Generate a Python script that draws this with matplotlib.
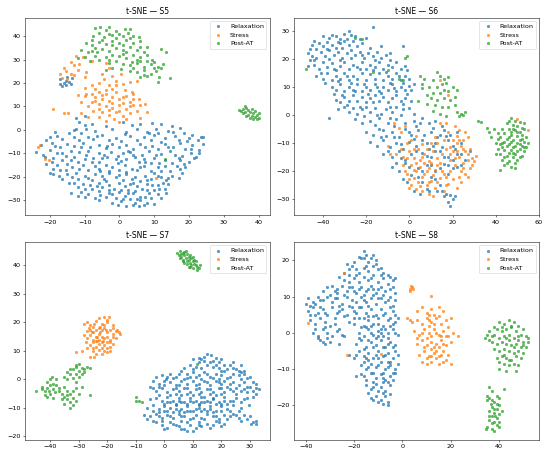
"""t-SNE embeddings of the four subjects, coloured by condition."""
import numpy as np
import matplotlib
matplotlib.use("Agg")
import matplotlib.pyplot as plt

# ── Embedding coordinates (x, y) ──────────────────────────────────────────────
s5_relax = [
    (1,3.5),(9.5,3),(12,2.5),(17.5,1),(-10,2),(-4,1.5),(3.5,2),(6,2.5),(10.5,0.5),(15,1.5),(14,-0.5),
    (-12.5,0.5),(-7,-0.5),(-2,0.2),(2,-1),(5,0.5),(8,-0.8),(11,-1.2),(18.5,-1.5),(21,-2),(23.5,-3),
    (-18,-2.5),(-14.5,-1.5),(-9,-3),(-5,-2),(-1,-3.5),(3,-2.5),(7,-3),(10,-2),(13,-3.5),(16,-2.8),
    (20,-3.5),(22.5,-4.5),(-16.5,-4),(-11.5,-4.5),(-7.5,-4),(0.5,-4.8),(5,-4.2),(9,-4.5),(12,-5),
    (17,-4.5),(-21,-4.2),(-3,-4.5),
    (-22.5,-6.5),(-19.5,-5.5),(-15,-6),(-13,-7),(-10.5,-5.8),(-6,-6.5),(-2,-6),(2,-6.5),(6,-6),
    (9.5,-7),(13,-6),(15.5,-7.5),(17.5,-5.5),(21,-6.5),(24,-6),(-17,-7.5),(-8.5,-7.5),(-4,-7.8),
    (0,-7.5),(4,-8),(11,-8),(19,-8),(23,-8.5),
    (-20,-8.5),(-18,-10),(-14,-9),(-11.5,-9.5),(-9,-9),(-6,-10),(-2.5,-9.5),(1,-10),(3,-9.5),
    (6.5,-10.5),(8.5,-9),(12,-10.2),(14.5,-9),(16,-10.5),(18,-11),(20.5,-10),(22,-11.5),
    (-24,-9.5),(-22,-10.5),(-15.5,-11),(-13,-11.5),(-7.5,-11.8),
    (-19,-12),(-16.5,-13),(-10,-12.5),(-5,-12),(-3.5,-11.5),(-1,-12.5),(2,-12.3),(4.5,-11.5),
    (7,-12.5),(10,-12),(13,-12.8),(17.5,-13),(20,-13.5),(21.5,-12),(-12,-13.5),(-8,-13.8),
    (-0.5,-14),(5.5,-13.8),(9,-14),(15,-14),
    (-21,-14.5),(-18,-15),(-15,-14.5),(-13.5,-16),(-10.5,-15),(-7,-15.5),(-4,-14.8),(-2,-16),
    (1.5,-15),(3.5,-16.5),(7,-15.5),(11,-16),(13,-15.5),(16.5,-15.5),(19,-16),(-17,-17),(-9,-17),
    (-5.5,-17.5),(0,-17.3),(5,-17),(9,-17.5),(14.5,-17.5),(18,-18.5),
    (-20,-18.5),(-19,-19),(-15,-19),(-12.5,-18.5),(-10,-19.5),(-7,-19),(-3,-18.5),(-1,-20),(2,-19),
    (4.5,-20),(7.5,-19.5),(10,-18.5),(12,-20),(15,-19.5),(17,-20.5),(-16.5,-21),(-12,-21),
    (-8,-21.5),(-4.5,-21),(1,-21.5),(6,-21.8),(9,-21),(13.5,-21.5),
    (-14.5,-22.5),(-10.5,-23),(-6,-22.5),(-3,-23.5),(0,-22.8),(3,-23),(5,-24),(8,-23),(11,-23.5),
    (14,-23),(-12,-24.5),(-8,-25),(-5,-24.5),(-1.5,-25),(2.5,-25.5),(6.5,-25),(10,-25.5),(13,-25),
    (-14,-27),(-11,-26.5),(-9,-27.5),(-6,-26),(-3,-27),(0,-26.5),(1.5,-28),(4,-27),(6,-28.5),
    (8.5,-27),(11,-27.5),(13.5,-27),(-12,-28),(-7,-29),(-4,-28.5),(-1,-29),(3,-29.5),(9,-29),
    (-6,-30),(-2,-31),(0.5,-30.5),(2,-32.5),(4.5,-31),(5.5,-32.5),(8,-31),(10,-31.5),(-0.5,-32),(6,-30),
    (-17,21.5),(-16,20),(-15.5,19),(-14.5,20.5),(-16.5,18.5),(-13.5,22),(-15,22.5),(-17,19.5),
    (-14,19.5),(-15.5,21),
    (-12.5,5),(-11.5,3.5),(-9.5,0.5),(-13,0),(-8,2.5),(-10,6),(-11,-1.5),(-18.5,-1),(24,-3),
    (-20,-3.2),(-13,-3),(-6.5,-2.8),(1.5,-1.8),(8.5,-1.5),(15.5,-0.8),(19.5,-4.8),
    (-18.5,-7),(-11,-7.2),(-3.5,-7),(2.5,-8.8),(7.5,-7.5),(14,-7.2),(20.5,-8),
    (-21.5,-11.5),(-16.5,-10),(-9.5,-10.8),(-4.5,-10.5),(-0.5,-11),(4,-10.8),(10.5,-10.5),(17,-12),
    (23,-10),(-19.5,-13.8),(-14,-13),(-6,-13.5),(0.5,-13.2),(7.5,-13.8),(11.5,-14.2),(18.5,-14.5),
    (-19,-16.5),(-15.5,-17),(-11.5,-16.8),(-6,-16.5),(-3,-17.5),(2,-17.8),(6,-16),(12,-17.5),
    (17.5,-16.8),(-17.5,-19.8),(-13.5,-20),(-9,-20.5),(-5,-19.8),(0,-19.2),(3.5,-21),(8,-21.5),
    (11,-19.5),(14,-20.3),(-13,-22.5),(-8.5,-23.5),(-4,-22),(1.5,-24),(4,-22.5),(9.5,-23.5),
    (12.5,-22.5),(-10,-25),(-6.5,-24),(-3,-25.5),(0.5,-25.5),(4.5,-26),(8,-25.5),(11.5,-25),
    (-10,-28.5),(-5.5,-27.8),(-2,-27.5),(2.5,-27),(5,-29.5),(7.5,-28.5),(12,-29),(1,-29.5),(4,-32),(7,-32),
]
s5_stress = [
    (-12.5,31.5),(-10.5,31),(-14,29),(-13,27.5),(-11.5,28),(-15.5,25),(-14,24),(-16.5,22),(-15,21.5),
    (-13,23.5),(-12,25.5),(-16,26.5),(-17,24),(-8,29.5),(-9.5,24.5),(-10,22.5),
    (-4,28.5),(-3,26.5),(-5,24),(-2,23),(-4.5,21.5),(-1,21),(0.5,24),(-6,20),(-3,19),(1,19.5),
    (3,20.5),(5,21),(-8,19),
    (-12,15),(-10,14.5),(-9.5,15.5),(-8,12),(-7,14),(-6,16),(-5,13),(-4,15.5),(-3,12.5),(-2,14),
    (-1,16),(0,13),(1,11.5),(2,14.5),(3,12),(4,15.5),(5.5,13),(6,10.5),(7.5,11),(-6,11),(-4,10),
    (-2,9.5),(0,10.5),(2,9),(4,10.5),(-9,10),(-11,12),(-7.5,8),(-5,7.5),(-3,6.5),(-1,7.5),(1,6),
    (3,7),(5,8),(-1.5,4.5),(-6,5.5),(-9,5.5),(-11,7),(-2,17.5),(-7,17.5),(1.5,17),(3.5,16),
    (-10,18),(0,3.5),(2,4.5),(8,7.5),(-4,3.8),(6,5),
    (-7,12.5),(-5,15),(-2,11.5),(1,14),(3,10),(-8,15.5),(-3,8.5),(0,8),(4,13),(-6,9),(-1,19),(-4,17),
    (-19,8.7),(-16,7.3),(-14.8,7),(-22.8,-6.3),(-21.5,-12.6),(-20.3,-12.7),(10.6,-20.3),(-23.5,-7.5),
]
s5_post = [
    (-7,43.5),(-5.5,44),(-4,42.5),(-3,43.8),(-6,41.5),(-1,42),(1.5,43),(2.5,41.5),(4,40),(-2,40.5),
    (0,41),(3,43),(-4.5,39.5),(-7.5,40),(5.5,39.5),
    (-9.5,37),(-8,36),(-6,37.5),(-4,36.5),(-2,38),(0,37),(2,38.5),(4,37),(6,38),(-5,34.5),(-3,33.5),
    (-1,35),(1,34),(3,35.5),(5,34),(7,33),(-9,33),(-7,31.5),(-10,31),(-8.5,29.5),(-6,30),(-4,31),
    (-2,32),(0,31.5),(2,30.5),(4,32),(6,31),(8,32),(9.5,30),(-3,28.5),(-1,29.5),(1,28),(3,27.5),
    (5,28.5),(7,27),(9,28),(11,27),(3,25),(5,24.5),(7,25.5),(9,24),(10.5,25),(12,26.5),(6,22.5),
    (8,23),(11.5,22.5),(14.5,22),(11,20.5),(12,34.5),(13.5,33),(-11,34),(-12,30.5),(-8,38.5),
    (-1,39),(1,36),(-6.5,33),(3.5,29),(6,29.5),(0.5,26),(8,35.5),(10,29),(-2,26.5),(12.5,28),(-4,25.5),
    (-3,41),(1,40),(-5,38.5),(3,39),(-7,35),(-2,36),(2,33),(6,35.5),(-8,33.5),(-3,30),(1,32.5),
    (5,30),(8,29.5),(10,26.5),(4,26.5),(7,23.5),
    (35,8),(35.5,9),(36,7.5),(36.5,9.5),(37,8.5),(37,6.5),(37.5,7.5),(38,9),(38,6),(38.5,7),(39,5.5),
    (39,8),(39.5,6.5),(40,5),(40,7),(36,10),(34.5,8.5),(38.5,4.5),(37.5,5),(36.5,6),(39.5,4.5),(35.5,7),
    (13,-12.3),
]

s6_relax = [
    (-40,28),(-37,27.5),(-34,28),(-32,27),(-30,29),(-28,30),(-27,28.5),(-29,27),(-17,31.5),(-20,27.5),
    (-45,25),(-42,25.5),(-40,24.5),(-38,26),(-36,25),(-34,24),(-32,25.5),(-30,26.5),(-28,25),
    (-26,26.5),(-24,24.5),(-22,25.5),(-43,23.5),(-3,24.5),
    (-47,22),(-45,21),(-43,20.5),(-41,22.5),(-39,21),(-37,23),(-35,21.5),(-33,22.5),(-31,20.5),
    (-29,22),(-27,23),(-25,21.5),(-23,22.5),(-21,20.5),(-19,22),(-17,21),(-15,22.5),(-13,20.5),
    (-11,21.5),(-9,22),
    (-47,17.5),(-44,18),(-42,16.5),(-40,19),(-38,17),(-36,18.5),(-34,16),(-32,17.5),(-30,19),
    (-28,16.5),(-26,18),(-24,17),(-22,19),(-20,16.5),(-18,18),(-16,17),(-14,19),(-12,16.5),(-10,18),
    (-8,17),(-6,19),(-4,16.5),(-2,17.5),(-46,19.5),(-1,16),
    (-43,14),(-40,13),(-38,15),(-36,12.5),(-34,14),(-32,13),(-30,15),(-28,12.5),(-26,14),(-24,13),
    (-22,15),(-20,12.5),(-18,14.5),(-16,13),(-14,15),(-12,12.5),(-10,14),(-8,13),(-6,15),(-4,12.5),
    (-2,14),(0,13),
    (-36,10),(-34,9),(-32,11),(-30,8.5),(-28,10),(-26,9),(-24,11),(-22,8.5),(-20,10),(-18,9),
    (-16,11),(-14,8.5),(-12,10),(-10,9),(-8,11),(-6,8.5),(-4,10),(-2,9),(0,10.5),(2,11),
    (-34,5.5),(-32,4.5),(-30,6.5),(-28,5),(-26,7),(-24,5),(-22,6.5),(-20,4.5),(-18,6),(-16,7),
    (-14,5),(-12,6.5),(-10,4.5),(-8,6),(-6,7),(-4,5),(-35,7.5),(-2,6),
    (-33,2),(-30,3),(-28,1),(-26,2.5),(-24,0.5),(-22,2),(-20,3),(-18,1),(-16,2.5),(-13,0.5),(-11,2),
    (-8,1),(-6,3),(-3,2),(0,2.5),(2,0.5),(-37,-1),
    (-25,-1.5),(-22,-3),(-18,-2),(-14,-1),(-10,-3),(-6,-1.5),(-2,-3),(2,-2),(6,-1),(9,-3),(12,-2),(15,-4),
    (-20,-6),(-17,-7),(-14,-5),(-11,-7.5),(-8,-6),(-5,-8),(-2,-5),(1,-7),(4,-5.5),(7,-7),(10,-6),
    (13,-8),(16,-5.5),(19,-7),(22,-6),
    (-18,-9.5),(-15,-11),(-12,-9),(-9,-11.5),(-6,-10),(-3,-12),(0,-9.5),(3,-11),(6,-9),(9,-12),
    (12,-10),(15,-11.5),(18,-9),(21,-12),(24,-10),
    (-12,-14),(-8,-15),(-5,-13),(-2,-16),(1,-14),(6,-13.5),(10,-15),(14,-13),(18,-15),(22,-14),
    (26,-16),(28,-13),
    (-8,-18.5),(-5,-20),(-2,-17),(4,-19),(8,-18),(12,-20),(16,-17.5),(20,-19),(24,-18),
    (-3,-23),(1,-21.5),(6,-24),(10,-22),(14,-25),(18,-21),
    (2,-27),(5,-28),(8,-26.5),(13,-27),(16,-29),(18,-31),(19,-32.5),(20,-30),(17,-28),(19,-28.5),
    (-44,26.5),(-36,28.5),(-33,26),(-25,28),(-46,23.5),(-38,23.5),(-31,24),(-23,27),(-18,24),(-13,24.5),
    (-44,19.5),(-37,20),(-32,19.5),(-27,20.5),(-22,21.5),(-16,19.5),(-9,19.5),(-41,15),(-35,16.5),
    (-29,14),(-23,16.5),(-17,16),(-11,15.5),(-5,14),
    (-39,11.5),(-33,12),(-27,11.5),(-21,11),(-15,10),(-9,11.5),(-3,11.5),(1,9),
    (-31,7),(-25,8.5),(-19,7.5),(-13,8),(-7,9.5),(-1,7.5),(-29,3.5),(-23,3),(-17,4.5),(-9,3),(-3,4),(1,5),
    (-21,-0.5),(-15,0),(-9,-1),(-4,0),(3,-4),(-16,-3.5),(-12,-5.5),(-7,-4),(0,-6),(5,-3),(11,-4.5),(14,-7),
    (-13,-8),(-7,-8),(-4,-10.5),(2,-8.5),(8,-10),(11,-11),(17,-7.5),(20,-11),
    (-10,-13),(-4,-15.5),(3,-13),(8,-14.5),(12,-13),(16,-15),(20,-16),(24,-14),
    (-6,-17),(0,-18.5),(6,-20),(10,-18),(14,-19),(18,-18),(22,-18.5),(-1,-24),(4,-22),(12,-23),
    (15,-27),(9,-27),(21,-29),
]
s6_stress = [
    (-5,-4.5),(-4,-6),(-2,-4),(-7,-3),(-10,-11),(-9,-14),(-4,-12),(-1,-10),(-6,-14),(-3,-15),(0,-13),
    (2,-15.5),(4,-12),(5,-16),(7,-14),(9,-16.5),(11,-13),(13,-15.5),(15,-14),(1,-18),(3,-20),
    (5,-18.5),(7,-21),(9,-19),(11,-21.5),(13,-18),(15,-20),(17,-22),(-1,-21),(0,-23),(2,-22.5),
    (4,-24),(6,-22),(8,-25),(10,-23.5),(12,-26),(14,-22.5),(-2,-20),(0,-26),(3,-26.5),(6,-27),
    (9,-28),(11,-29),(17,-25),(20,-23),(22,-26),(19,-16),(21,-18),(23,-15),(25,-17),(27,-14),
    (29,-15.5),(31,-14.5),(24,-20),(26,-21),(28,-19),(22,-13),(24,-11),(26,-13),(28,-12),(20,-9),
    (22,-7.5),(25,-9),(27,-8),(21,-4),(23,-5.5),(19,-11.5),(16,-9),(17,-12),(10,-10),(12,-8),
    (8,-12),(6,-10.5),(14,-3),(17,-3),(18,-6),(14,12.5),(18,7),(50,-1.5),(55,-5.5),
    (1,-9),(3,-7.5),(-3,-18),(16,-27),(20,-13),(29,-18),(27,-22),(24,-24),(13,-10),(18,-24.5),
    (2,-12),(7,-17),
    (3,-17),(6,-15),(8,-20),(10,-17),(12,-19.5),(14,-17),(16,-21),(1,-25),(5,-25.5),(9,-24),
    (13,-24),(19,-20),(23,-22),(25,-19),(27,-16),(30,-16.5),(22,-10),(25,-12),(21,-15.5),(23,-9),
    (26,-6),(19,-14),(2,-19.5),(-1,-15.5),
]
s6_post = [
    (47,-1),(49,-2),(51,-2.5),(45,-3),(48,-3.5),(50,-4),(52,-4.5),(43,-5),(46,-5),(49,-5.5),(51,-6),
    (53,-5),(39,-5),(41,-6.5),(44,-6.5),(47,-7),(50,-7.5),(52,-7),(54,-8),(38,-8),(42,-8),(45,-8.5),
    (48,-9),(51,-9),(53,-9.5),(40,-10),(43,-10),(46,-10.5),(49,-11),(52,-11),(54,-11.5),(41,-12),
    (44,-12.5),(47,-12.5),(50,-13),(53,-13),(42,-14),(45,-14.5),(48,-15),(51,-15),(43,-16),
    (46,-16.5),(49,-17),(44,-18),(47,-18.5),(49,-19),(42,-19.5),(46,-13.5),(48,-11.5),(47,-6),
    (45,-11),(50,-10),(52,-14.5),(44,-9.5),(50,-16),(46,-8),(53,-3),(36,-4.5),(37,-6),(40,-14),
    (48,-5),(51,-12),(43,-11.5),(55,-10),
    (46,-2),(50,-6),(42,-10.5),(45,-17),(48,-13.5),(52,-8.5),(44,-15),(47,-9.5),(49,-14),(51,-10.5),
    (41,-8.5),(53,-11.5),
    (5,14),(7,13),(13,15.5),(14,14),(16,13),(11,12.5),(15,11),(17,11.5),(13,10),(9,10),(6,9.5),
    (11,8),(14,8),(16,9),(18,8.5),(20,10),(22,9),(10,6),(13,5.5),(16,6),(19,5.5),(21,6.5),(8,4),
    (12,3.5),(15,3),(18,3),(21,3.5),(22,1),(11,1.5),(14,0.5),(17,-0.5),(24,0.5),(25,0),(26,1),
    (23,-0.5),(32,-2),(33,-2.5),(6,11),(18,13.5),(8,7),(4,5),
    (-48,16.5),(-25,27.5),(-22,27),(-2,20.5),(-1,21),(-5,13),(-3,12.5),(-17,15.5),(-10,16),
]

s7_relax = [
    (14,8),(15,9),(16.5,8.5),(18,7.5),(17,6.5),(19,6),(20,7),
    (9,5),(11,4.5),(12,6),(13,4),(15,5),(17,4.5),(19,4),(21,5),(22,3.5),(24,4),(27,5),(28,3),
    (-1,1.5),(2,2),(4,1),(6,3),(8,2),(10,2.5),(12,1.5),(14,2.5),(16,1),(18,2),(20,1.5),(22,0.5),
    (24,2),(26,1.5),(28,2),(30,1),
    (-4,-0.5),(-2,-1.5),(0,-0.5),(2,-1),(4,-2),(6,-0.5),(8,-1.5),(10,-0.5),(12,-1.5),(14,-0.5),
    (16,-2),(18,-0.5),(20,-1.5),(22,-2.5),(24,-1),(26,-2),(28,-1),(30,-2.5),(32,-3),(31,-1),
    (-3,-4),(-1,-3),(1,-4.5),(3,-3.5),(5,-4),(7,-3),(9,-4.5),(11,-3.5),(13,-4.5),(15,-3.5),
    (17,-4.5),(19,-3),(21,-4.5),(23,-3.5),(25,-5),(27,-4),(29,-4.5),(31,-4),(33,-3.5),(29,-2.5),
    (-5,-7),(-3,-6.5),(-1,-7.5),(1,-6),(3,-7.5),(5,-6.5),(7,-8),(9,-6.5),(11,-7.5),(13,-6),
    (15,-7.5),(17,-6.5),(19,-8),(21,-6),(23,-7.5),(25,-6.5),(27,-8),(29,-6.5),(29.5,-9),
    (-6,-10),(-4,-9),(-2,-10.5),(0,-9.5),(2,-10),(4,-9),(6,-10.5),(8,-9.5),(10,-11),(12,-9),
    (14,-10.5),(16,-9.5),(18,-11),(20,-9.5),(22,-10.5),(24,-9),(26,-11),
    (-7,-12.5),(-5,-13),(-3,-12),(-1,-13.5),(1,-12.5),(3,-13.5),(5,-12),(7,-13),(9,-14),(11,-12.5),
    (13,-13.5),(15,-12),(17,-13),(19,-14),(21,-12.5),(23,-13),(26,-13.5),(28,-12.5),(29,-14),
    (30,-13),(31,-15),(32,-14.5),(30.5,-15.5),(32,-15.5),
    (-3,-15),(-1,-16),(1,-17),(3,-15.5),(5,-16.5),(7,-17.5),(9,-16),(11,-17),(13,-16.5),(15,-15.5),
    (17,-16),(19,-15),(21,-15.5),(8,-18),(10,-18),(0,-17.5),(2,-14.8),
    (0.5,0),(3,0.5),(5,-2),(7,0),(9,1),(11,-2),(13,0),(15,-1),(17,0.5),(19,-1),(21,-0.5),(23,1),
    (25,-3),(2,-5.5),(4,-5),(6,-5.5),(8,-5),(10,-5.5),(12,-5),(14,-6),(16,-5),(18,-5.5),(20,-5),
    (0,-8.5),(2,-8),(4,-8.5),(6,-8),(8,-8.5),(10,-8),(12,-8.5),(14,-8),(16,-8),(18,-8.5),(20,-8.5),
    (22,-8.5),(-2,-11.5),(1,-11),(3,-11.5),(5,-11),(7,-11.5),(9,-11),(11,-10.5),(13,-11),(15,-11),
    (17,-11.5),(-4,-14.5),(6,-14.5),(12,-14.8),(18,-13),(24,-12),(27,-10),(31,-6),(-2,-2.5),
    (-5,-2.5),(12,7.5),(10,7),(14,6.5),(24,6),(27,2.5),(21,3),(25,3.5),
    (13,7),(16,6),(18,5),(20,3),(23,5),(26,3),(7,4),(10,3.5),(-3,1),(1,1),(5,2),(8,0.5),(11,1),
    (15,2),(19,0),(23,-1.5),(27,0),(29,0.5),(32,-1.5),
    (-4,-3),(0,-2),(4,-3),(8,-3),(12,-3),(16,-3.5),(20,-3),(24,-4),(28,-3.5),(32,-5),
    (-2,-5.5),(1,-8),(5,-7.5),(9,-7.5),(13,-8),(17,-7),(21,-7.5),(24,-7.5),(28,-7),
    (-4,-11),(0,-11),(4,-10.5),(8,-11),(12,-10),(16,-10.5),(20,-11),(23,-11),(25,-12.5),
    (-6,-14),(-2,-13),(2,-13),(6,-13),(10,-13.5),(14,-14),(18,-14.5),(22,-14),(27,-14.5),
    (-1,-14.5),(4,-16),(8,-15),(12,-16),(16,-17),(20,-16.5),(6,-17.5),
]
s7_stress = [
    (-23,21.5),(-21,22),(-20,21),(-24,20.5),(-19.5,22),
    (-28,19.5),(-27,20),(-26,19),(-25,18.5),(-22,19.5),(-20,20),(-18,19),(-26.5,18),
    (-27,17),(-25,16.5),(-24,17.5),(-23,16),(-22,17.5),(-21,18),(-19,17.5),(-17,17),(-16,16.5),
    (-18,16),(-20,16.5),(-15.5,16),
    (-27,14.5),(-26,15.5),(-25,14),(-24,15),(-23,14),(-22,15),(-21,14.5),(-20,15),(-19,14),
    (-18,15),(-17,14.5),(-28,15.5),(-21.5,13.5),
    (-26,12),(-25,13),(-24,11.5),(-23,12.5),(-22,11),(-21,12),(-20,13),(-19,11.5),(-18,12.5),
    (-27,11),(-23.5,13.5),
    (-25,10),(-24,9),(-23,10.5),(-22,9),(-26,8),(-24.5,8),(-21,10),(-20,9.5),(-31,9.5),(-29,10),(-19,10),
    (-24.5,19.5),(-22.5,18.5),(-21,19),(-23,18),(-25.5,16.5),(-19,13),(-22,13),(-24,13.5),(-20,11),
    (-22.5,16.5),(-18,18),(-16.5,17.5),(-26,17.5),(-20.5,17.5),(-23.5,15),(-25,11),(-27.5,13),
]
s7_post = [
    (4.5,44.5),(5.5,45),(6.5,44.5),(7.5,45),(5,43.5),(6,43),(7,43.5),(8,44),(9,43.5),(6.5,42),
    (7.5,42.5),(8.5,42),(9.5,42.5),(10,41.5),(7,41),(8,40.5),(9,41),(10.5,40.5),(11,40),(11.5,39.5),
    (12,39),(10,39),(9.5,40),(8.5,43),(6,44),(7,44.8),(8,41.5),(11,41.5),(10,43),(12.5,40),(9,39.5),
    (5.5,42.5),(8.5,39.5),(11.5,38.5),(6.5,41.5),(10.5,42),
    (-45,-4),(-43,-2.5),(-42,-4),(-41,-1),(-40,0),(-39.5,1),(-41,-3),(-40,-2),(-39,-3.5),(-38,-2),
    (-42,-5.5),(-40,-5),(-38.5,-4.5),(-41,-6),(-39,-6.5),(-37,-4),(-43,-3.5),(-40.5,-4),(-38,0),(-39,-1.5),
    (-37,-3),(-35,-2.5),(-34,-4),(-36,-5),(-35,-6),(-33,-5),(-32,-4),(-31,-3),(-34,-7),(-33,-8),
    (-32,-6.5),(-31,-7.5),(-35,-8.5),(-33,-10),(-36,-7),(-30,-5),(-29,-2.5),(-32,-9),(-34,-5.5),(-31,-1),
    (-35,1),(-34,2.5),(-33,2),(-32,3.5),(-31,4.5),(-30,3),(-29,2),(-28,3.5),(-30,1),(-32,0.5),
    (-31,2),(-29,4),(-33,3.5),(-31,5),(-28,2.5),(-30,5.5),(-27,4.5),(-34,0),
    (-26,-5.5),(-26,4),(-10,-6),(-10,-7.5),(-9,-7.5),(-8,-7.8),(11.5,5.5),
]

s8_relax = [
    (-18,21),(-16,22.5),(-15,21.5),(-13,20.5),(-11,20),(-14,19.5),(-17,20.5),
    (-23,19),(-21,18.5),(-19,17.5),(-16,18),(-14,17),(-12,18.5),(-10,17.5),(-9,18),(-8,16.5),(-22,17.5),
    (-26,15.5),(-24,14.5),(-22,16),(-20,15),(-18,14),(-16,15.5),(-14,14.5),(-12,16),(-10,14),
    (-8,15),(-6,16),(-4,14.5),(-3,15),
    (-31,12.5),(-29,13),(-27,12),(-25,13),(-23,11.5),(-21,12.5),(-19,11),(-17,12.5),(-15,11.5),
    (-13,13),(-11,11),(-9,12.5),(-7,11.5),(-5,12),(-3,11),(-33,11.5),
    (-39,9.5),(-37,8.5),(-35,10),(-33,9),(-31,10),(-29,8.5),(-27,9.5),(-25,8),(-23,10),(-21,9),
    (-19,8.5),(-17,10),(-15,8.5),(-13,9.5),(-11,8),(-9,9.5),(-7,8.5),(-5,10),(-3,9),(-40,8),
    (-39,6),(-37,7),(-35,5.5),(-33,6.5),(-31,5),(-29,7),(-27,5.5),(-25,6.5),(-23,5),(-21,7),
    (-19,5.5),(-17,7),(-15,5.5),(-13,6.5),(-11,5),(-9,6.5),(-7,5.5),(-5,7),(-3,5),
    (-38,3.5),(-36,2.5),(-34,4),(-32,3),(-30,2),(-28,4),(-22,3),(-20,2.5),(-18,4),(-16,2),
    (-14,3.5),(-12,2.5),(-10,4),(-8,2),(-6,3.5),(-4,2.5),(-2,4),
    (-37,0),(-35,-1),(-33,1),(-31,0),(-29,-1),(-27,0.5),(-25,-0.5),(-18,0),(-16,-1),(-14,1),
    (-12,-0.5),(-10,0.5),(-8,-1),(-6,0),(-4,1),(-2,-0.5),
    (-34,-2),(-32,-3),(-30,-2.5),(-26,-3),(-19,-3),(-17,-2),(-15,-4),(-13,-2.5),(-11,-3.5),(-9,-2),
    (-7,-4),(-5,-2.5),(-3,-3.5),(-35,-1.5),
    (-22,-6),(-20,-7),(-18,-5),(-16,-6.5),(-14,-5.5),(-12,-7),(-10,-5),(-8,-6.5),(-6,-5.5),(-4,-7),
    (-2,-6),(-3,-5),
    (-17,-9),(-15,-10),(-13,-8.5),(-11,-9.5),(-9,-8),(-7,-10),(-5,-9),(-3,-10),(-2,-8.5),(-16,-8),
    (-19,-12),(-17,-11.5),(-15,-13),(-13,-11),(-11,-12.5),(-9,-11.5),(-7,-13),(-5,-12),(-3,-11),
    (-15,-14.5),(-13,-15.5),(-11,-14),(-9,-15),(-7,-16),(-5,-14.5),(-14,-16.5),
    (-13,-18),(-11,-17.5),(-10,-19),(-9,-18.5),(-7,-17.5),(-6,-20),(-6,-19),(-12,-18.5),
    (-24,10.5),(-20,11.5),(-16,10.5),(-12,10.5),(-22,14),(-18,16.5),(-14,12),(-10,12),(-26,7.5),
    (-30,10.5),(-34,7),(-38,5),(-36,8),(-24,4.5),(-20,6),(-16,4),(-12,4.5),(-14,7.5),(-18,7),
    (-8,10.5),(-10,2.5),(-13,0),(-15,1.5),(-11,-1.5),(-14,-7.5),(-10,-7),(-6,-8),(-8,-11),
    (-12,-13.5),(-8,-13.5),(-4,-13),(-6,-3),(-9,0),(-5,4),(-7,1),(-24,-1),(-33,-2.5),(-26,1),(-27,11),
    (-16,20.5),(-12,21.5),(-20,19.5),(-15,18.5),(-11,19),(-24,16.5),(-19,16),(-13,15),(-9,16),(-5,15.5),
    (-28,11.5),(-22,12.5),(-18,12),(-12,12),(-6,13.5),(-4,12.5),
    (-38,7.5),(-34,9),(-28,9.5),(-22,7.5),(-16,9),(-10,9.5),(-6,9),(-4,7.5),
    (-36,5),(-32,5.5),(-26,6),(-20,4),(-14,4.5),(-8,5),(-4,6),(-3,3),
    (-36,1),(-32,1.5),(-28,2.5),(-17,1.5),(-13,2),(-9,1),(-5,2),(-3,0),
    (-31,-1.5),(-18,-1.5),(-14,-2),(-10,-1),(-6,-1.5),(-4,-4),(-16,-4.5),(-12,-4),(-8,-4),
    (-19,-6),(-15,-7),(-11,-6),(-7,-6),(-5,-8),(-14,-9.5),(-10,-9),(-6,-9.5),(-4,-11),
    (-16,-12),(-12,-11),(-8,-12.5),(-6,-13.5),(-12,-15),(-8,-16.5),(-10,-16),(-8,-19.5),(-5,-17),
]
s8_stress = [
    (6,6),(8,7),(10,5.5),(12,6.5),(15,7),(17,6),(13,5),
    (4,3),(6,3.5),(8,2.5),(10,4),(12,3),(14,4),(16,2.5),(18,3.5),(15,4.5),(11,2),
    (5,0.5),(7,-0.5),(9,1),(11,0),(13,1),(15,-0.5),(17,0.5),(19,-1),(21,0),(23,-0.8),(12,-1),
    (6,-3),(8,-2),(10,-3.5),(12,-2.5),(14,-3),(16,-2),(18,-3.5),(20,-2.5),(9,-4),(13,-4),
    (7,-6),(9,-5),(11,-6.5),(13,-5.5),(15,-6.5),(17,-5),(19,-6),(10,-7),(14,-7),(18,-7.5),
    (8,-8),(10,-8.5),(12,-8),(15,-8.5),(17,-8),(20,-8.5),
    (11,3.5),(13,2.5),(14,0),(16,-1),(10,-1.5),(12,-4.5),(15,-4),(17,-3),(19,1.5),(8,0),(6,-1.5),
    (14,-5),(16,-6),(12,10.2),(12,-6.5),(18,-1),(11,5),(20,4),
    (3.5,13),(4,12.5),(3,12),(4.5,12),(3,11.5),(2,4.2),(3,3.5),
    (-39,2.8),(-24,16.5),(-23,-6),(-9,-5.8),
]
s8_post = [
    (44,3.5),(46,3),(42,2.5),(40,3),(48,2),(50,1),(39,1),(41,0.5),(43,1),(45,1.5),(47,0.5),(49,-0.5),
    (51,-1),(35,-0.5),(37,-1),(34,-1.5),(36,0.5),(38,-0.5),(40,-1.5),(42,-1),(44,-0.5),(46,-1.5),
    (48,-2),(50,-2.5),(52,-2.5),(37,-2.5),(39,-3),(41,-2.5),(43,-3),(45,-3.5),(47,-3),(49,-4),
    (51,-4),(38,-4.5),(40,-5),(42,-4.5),(44,-5),(46,-5.5),(48,-5),(50,-5.5),(39,-7),(41,-6.5),
    (43,-7),(45,-7.5),(47,-6.5),(49,-7),(42,-8.5),(44,-9),(46,-8.5),(48,-9),(40,-10),(43,-10.5),
    (47,-10.5),(36,-2),(41,1.5),(44,-2),(46,-4),(48,-1),(42,-6),(45,2),(43,-1.5),(38,1.5),(50,-3.5),
    (52,-1.5),(44,-7.5),(40,-8),
    (36,-15),(37,-16),(35,-17.5),(36,-18),(37,-18.5),(35,-18.5),(38,-19),(39,-19.5),(40,-20),
    (37,-20.5),(39,-21),(36,-21.5),(38,-22),(40,-22.5),(37,-23),(39,-23.5),(36,-24),(38,-24.5),
    (40,-24.5),(37,-25),(39,-25.5),(35,-26),(37,-26.5),(38,-27),(40,-26),(36,-23),(38,-21),
    (39,-17.5),(41,-21.5),(34.5,-26.5),(36.5,-19.5),(38.5,-23),(42,-15.5),(40,-18),
]

subjects = ["S5", "S6", "S7", "S8"]
conditions = ["Relaxation", "Stress", "Post-AT"]
embeddings = {
    "S5": [s5_relax, s5_stress, s5_post],
    "S6": [s6_relax, s6_stress, s6_post],
    "S7": [s7_relax, s7_stress, s7_post],
    "S8": [s8_relax, s8_stress, s8_post],
}
colors = ["#1f77b4", "#ff7f0e", "#2ca02c"]

# ── Figure ────────────────────────────────────────────────────────────────────
fig, axes = plt.subplots(2, 2, figsize=(12, 9.95), dpi=45.83)
for ax, subj in zip(axes.flat, subjects):
    for pts, label, c in zip(embeddings[subj], conditions, colors):
        xy = np.array(pts)
        ax.scatter(xy[:, 0], xy[:, 1], s=14, alpha=0.75, color=c, label=label)
    ax.set_title(f"t-SNE — {subj}")
    ax.legend(loc="upper right")

plt.tight_layout()
plt.savefig("out.png", dpi=45.83)
